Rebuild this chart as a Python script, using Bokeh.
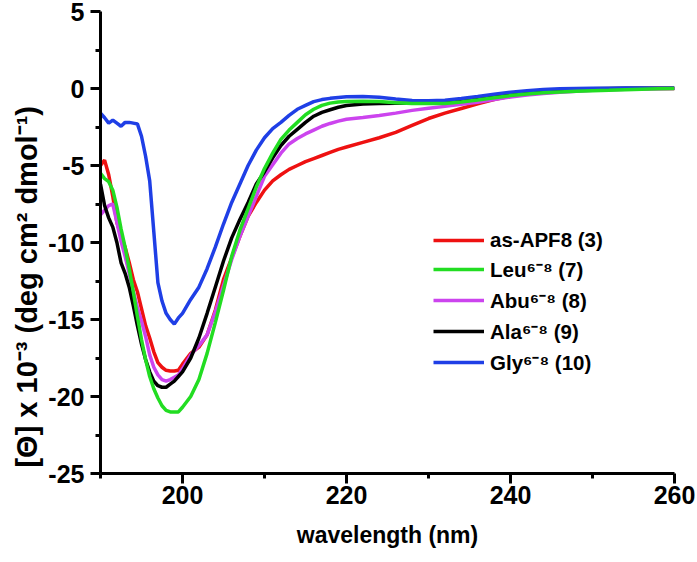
from bokeh.plotting import figure
from bokeh.models import Range1d, FixedTicker, Legend, LegendItem
from bokeh.embed import file_html
from bokeh.resources import INLINE

wavelength = [190, 190.5, 191, 191.5, 192, 192.5, 193, 193.5, 194, 194.5, 195, 195.5,
              196, 196.5, 197, 197.5, 198, 198.5, 199, 199.5, 200,
              201, 202, 203, 204, 205, 206, 207, 208, 209, 210,
              211, 212, 213, 214, 215, 216, 217, 218, 219, 220,
              222, 224, 226, 228, 230, 232, 234, 236, 238, 240,
              242, 244, 246, 248, 250, 252, 254, 256, 258, 260]

apf8 = [-5.0, -4.65, -5.6, -7.0, -8.7, -9.6, -10.3, -11.3, -12.4, -13.2, -14.3, -15.4,
        -16.2, -17.1, -17.8, -18.1, -18.3, -18.35, -18.35, -18.3, -17.9,
        -17.2, -16.8, -16.0, -14.4, -12.4, -11.0, -9.6, -8.3, -7.4, -6.6,
        -6.0, -5.6, -5.25, -5.0, -4.75, -4.55, -4.35, -4.15, -3.95, -3.8,
        -3.5, -3.2, -2.85, -2.4, -1.95, -1.6, -1.3, -1.0, -0.72, -0.5,
        -0.36, -0.25, -0.17, -0.1, -0.06, -0.03, -0.01, 0.0, 0.0, 0.0]

leu = [-5.5, -5.85, -6.05, -6.6, -7.7, -9.1, -10.3, -11.7, -13.2, -14.8, -16.3, -17.6,
       -18.7, -19.5, -20.1, -20.6, -20.9, -21.0, -21.0, -21.0, -20.7,
       -20.0, -18.9, -17.2, -15.2, -13.1, -10.9, -9.2, -7.8, -6.4, -5.2,
       -4.2, -3.3, -2.7, -2.2, -1.7, -1.35, -1.1, -0.95, -0.88, -0.84,
       -0.82, -0.85, -0.92, -0.97, -0.98, -0.97, -0.88, -0.75, -0.6, -0.46,
       -0.36, -0.28, -0.22, -0.18, -0.15, -0.12, -0.08, -0.05, -0.02, 0.0]

abu = [-8.2, -7.9, -7.6, -7.5, -8.7, -9.9, -10.9, -12.0, -13.2, -14.2, -15.1, -16.1,
       -17.3, -18.1, -18.6, -18.9, -19.0, -18.9, -18.75, -18.6, -18.2,
       -17.3, -16.7, -16.0, -14.5, -12.8, -11.1, -9.6, -8.3, -7.0, -5.7,
       -4.95, -4.2, -3.6, -3.25, -2.95, -2.7, -2.45, -2.27, -2.12, -2.0,
       -1.88, -1.75, -1.6, -1.42, -1.28, -1.16, -1.03, -0.9, -0.72, -0.55,
       -0.42, -0.32, -0.24, -0.18, -0.12, -0.08, -0.05, -0.03, -0.01, 0.0]

ala = [-6.2, -7.6, -8.4, -9.0, -10.0, -11.3, -12.0, -12.9, -14.1, -15.4, -16.6, -17.6,
       -18.4, -19.0, -19.3, -19.4, -19.4, -19.2, -19.0, -18.7, -18.4,
       -17.5, -16.2, -14.6, -12.9, -11.2, -9.7, -8.5, -7.4, -6.2, -5.4,
       -4.5, -3.7, -3.1, -2.65, -2.2, -1.8, -1.55, -1.38, -1.22, -1.1,
       -1.0, -0.97, -0.96, -0.95, -0.93, -0.88, -0.75, -0.6, -0.45, -0.32,
       -0.22, -0.14, -0.08, -0.04, -0.02, 0.0, 0.01, 0.02, 0.02, 0.02]

gly = [-1.6, -1.9, -2.25, -2.05, -2.25, -2.45, -2.2, -2.2, -2.25, -2.3, -3.1, -4.4,
       -6.0, -9.3, -12.6, -13.8, -14.6, -15.0, -15.3, -14.9, -14.6,
       -13.7, -12.9, -11.7, -10.3, -8.8, -7.4, -6.2, -5.0, -4.0, -3.2,
       -2.6, -2.2, -1.75, -1.35, -1.1, -0.85, -0.72, -0.64, -0.58, -0.53,
       -0.52, -0.57, -0.68, -0.78, -0.8, -0.77, -0.65, -0.52, -0.38, -0.24,
       -0.14, -0.06, -0.02, 0.0, 0.01, 0.02, 0.03, 0.03, 0.02, 0.02]

labels = ["as-APF8 (3)", "Leu\u2076\u207b\u2078 (7)", "Abu\u2076\u207b\u2078 (8)",
          "Ala\u2076\u207b\u2078 (9)", "Gly\u2076\u207b\u2078 (10)"]
colors = ["#ee1111", "#22dd22", "#cc44ee", "#000000", "#1f3fe6"]

x_major = [200, 220, 240, 260]
x_minor = [190, 210, 230, 250]
y_major = [-25, -20, -15, -10, -5, 0, 5]
y_minor = [-22.5, -17.5, -12.5, -7.5, -2.5, 2.5]

x_title = "wavelength (nm)"
y_title = "[\u0398] x 10\u207b\u00b3 (deg cm\u00b2 dmol\u207b\u00b9)"

FONT = "Liberation Sans"

p = figure(width=697, height=562, output_backend="svg", toolbar_location=None,
           x_range=Range1d(190, 260), y_range=Range1d(-25, 5),
           min_border_left=100, min_border_right=23, min_border_top=11, min_border_bottom=89)
p.outline_line_color = None
p.xgrid.visible = False
p.ygrid.visible = False
p.background_fill_color = "white"

series = [apf8, leu, abu, ala, gly]
renderers = {}
for idx in [0, 2, 3, 4, 1]:
    r = p.line(wavelength, series[idx], line_color=colors[idx], line_width=3.5)
    renderers[idx] = r

items = [LegendItem(label=labels[i], renderers=[renderers[i]]) for i in range(5)]
legend = Legend(items=items, location=(333, 97))
legend.border_line_color = None
legend.background_fill_alpha = 0
legend.padding = 0
legend.margin = 0
legend.spacing = 3
legend.glyph_width = 51
legend.glyph_height = 20
legend.label_height = 20
legend.label_standoff = 6
legend.label_text_font = FONT
legend.label_text_font_style = "bold"
legend.label_text_font_size = "20.5px"
legend.label_text_color = "black"
p.add_layout(legend)

for ax in (p.xaxis[0], p.yaxis[0]):
    ax.axis_line_width = 3
    ax.axis_line_color = "black"
    ax.major_tick_line_width = 3
    ax.minor_tick_line_width = 3
    ax.major_tick_out = 10
    ax.major_tick_in = 0
    ax.minor_tick_out = 5
    ax.minor_tick_in = 0
    ax.major_label_text_font = FONT
    ax.major_label_text_font_style = "bold"
    ax.major_label_text_font_size = "25px"
    ax.major_label_text_color = "black"
    ax.axis_label_text_font = FONT
    ax.axis_label_text_font_style = "bold"
    ax.axis_label_text_color = "black"

p.xaxis.ticker = FixedTicker(ticks=x_major, minor_ticks=x_minor)
p.yaxis.ticker = FixedTicker(ticks=y_major, minor_ticks=y_minor)
p.yaxis.major_label_overrides = {v: str(v) for v in y_major}
p.xaxis.axis_label = x_title
p.xaxis.axis_label_text_font_size = "23px"
p.xaxis.major_label_standoff = 2
p.xaxis.axis_label_standoff = 15
p.yaxis.major_label_standoff = 6
# trailing no-break spaces push the visible title below the axis centre, as in the reference
p.yaxis.axis_label = y_title + "\u00a0" * 11
p.yaxis.axis_label_text_font_size = "29px"
p.yaxis.axis_label_standoff = 2

open("out.html", "w").write(file_html(p, INLINE))
